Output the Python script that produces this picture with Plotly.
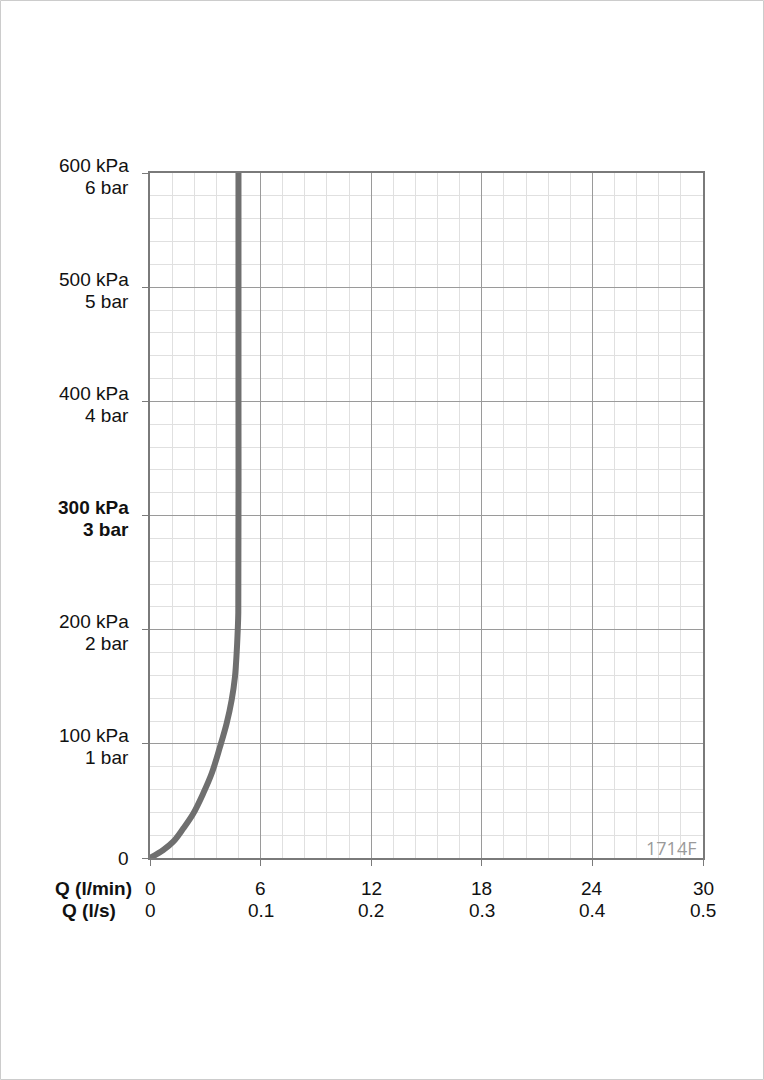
import plotly.graph_objects as go

# Curve data: flow Q (l/min) vs pressure (kPa)
flow_lpm = [0, 0.72, 1.26, 1.81, 2.35, 2.89, 3.35, 3.80, 4.16, 4.43, 4.61, 4.70, 4.76, 4.79, 4.80, 4.80]
pressure_kpa = [0, 7, 14.3, 26, 39, 56.7, 74.2, 97.5, 118, 138.4, 158.8, 179.5, 199.7, 215, 400, 600]

y_tick_vals = [0, 100, 200, 300, 400, 500, 600]
y_kpa_text = ["0", "100 kPa", "200 kPa", "<b>300 kPa</b>", "400 kPa", "500 kPa", "600 kPa"]
y_bar_text = ["", "1 bar", "2 bar", "<b>3 bar</b>", "4 bar", "5 bar", "6 bar"]
x_tick_vals = [0, 6, 12, 18, 24, 30]
x_lpm_text = ["0", "6", "12", "18", "24", "30"]
x_lps_text = ["0", "0.1", "0.2", "0.3", "0.4", "0.5"]

W, H = 764, 1080
L, R, T, B = 150, 61, 173, 222

FAM = "Liberation Sans, Arial, sans-serif"
font = dict(family=FAM, size=19, color="#111111")

fig = go.Figure()
fig.add_trace(go.Scatter(
    x=flow_lpm, y=pressure_kpa, mode="lines",
    line=dict(color="#6f6f6f", width=6, shape="spline", smoothing=1.0),
    hoverinfo="skip", showlegend=False,
))

fig.update_layout(
    width=W, height=H,
    margin=dict(l=L, r=R, t=T, b=B, pad=0),
    paper_bgcolor="white", plot_bgcolor="white",
    font=font,
    showlegend=False,
    xaxis=dict(
        range=[0, 30], tickmode="array", tickvals=x_tick_vals, showticklabels=False,
        showgrid=True, gridcolor="#9a9a9a", gridwidth=1.2,
        minor=dict(dtick=1.2, showgrid=True, gridcolor="#e0e0e0", gridwidth=1),
        showline=True, linecolor="#7a7a7a", linewidth=1.5, mirror=True,
        ticks="outside", ticklen=6, tickcolor="#7a7a7a", tickwidth=1.2,
        zeroline=False, fixedrange=True,
    ),
    yaxis=dict(
        range=[0, 600], tickmode="array", tickvals=y_tick_vals, showticklabels=False,
        showgrid=True, gridcolor="#9a9a9a", gridwidth=1.2,
        minor=dict(dtick=20, showgrid=True, gridcolor="#e0e0e0", gridwidth=1),
        showline=True, linecolor="#7a7a7a", linewidth=1.5, mirror=True,
        ticks="outside", ticklen=6, tickcolor="#7a7a7a", tickwidth=1.2,
        zeroline=False, fixedrange=True,
    ),
)

pw, ph = W - L - R, H - T - B
def px2paper_x(px):
    return (px - L) / pw
def px2paper_y(py):
    return (H - B - py) / ph

# Y-axis labels (two lines, right aligned)
for v, t1, t2 in zip(y_tick_vals, y_kpa_text, y_bar_text):
    if t2:
        fig.add_annotation(text=t1, xref="paper", yref="y", x=px2paper_x(131), y=v,
                           xanchor="right", yanchor="middle", yshift=8,
                           showarrow=False, font=font)
        fig.add_annotation(text=t2, xref="paper", yref="y", x=px2paper_x(131), y=v,
                           xanchor="right", yanchor="middle", yshift=-14,
                           showarrow=False, font=font)
    else:
        fig.add_annotation(text=t1, xref="paper", yref="y", x=px2paper_x(131), y=v,
                           xanchor="right", yanchor="middle",
                           showarrow=False, font=font)

# X-axis labels (two rows)
for v, t1, t2 in zip(x_tick_vals, x_lpm_text, x_lps_text):
    fig.add_annotation(text=t1, xref="x", yref="paper", x=v, y=px2paper_y(888),
                       xanchor="center", yanchor="middle", showarrow=False, font=font)
    fig.add_annotation(text=t2, xref="x", yref="paper", x=v, y=px2paper_y(910),
                       xanchor="center", yanchor="middle", showarrow=False, font=font)

# Page border
fig.add_shape(type="rect", xref="paper", yref="paper",
              x0=px2paper_x(0.5), x1=px2paper_x(763.5),
              y0=px2paper_y(1079.5), y1=px2paper_y(0.5),
              line=dict(color="#cccccc", width=1), layer="below")

fig.add_annotation(text="<b>Q (l/min)</b>", xref="paper", yref="paper",
                   x=px2paper_x(53), y=px2paper_y(888), xanchor="left", yanchor="middle",
                   showarrow=False, font=font)
fig.add_annotation(text="<b>Q (l/s)</b>", xref="paper", yref="paper",
                   x=px2paper_x(60), y=px2paper_y(910), xanchor="left", yanchor="middle",
                   showarrow=False, font=font)
fig.add_annotation(text="1714F", xref="paper", yref="paper",
                   x=px2paper_x(698), y=px2paper_y(848), xanchor="right", yanchor="middle",
                   showarrow=False, font=dict(family="Open Sans, sans-serif", size=18, color="#9a9a9a"))

fig.write_html("out.html")
